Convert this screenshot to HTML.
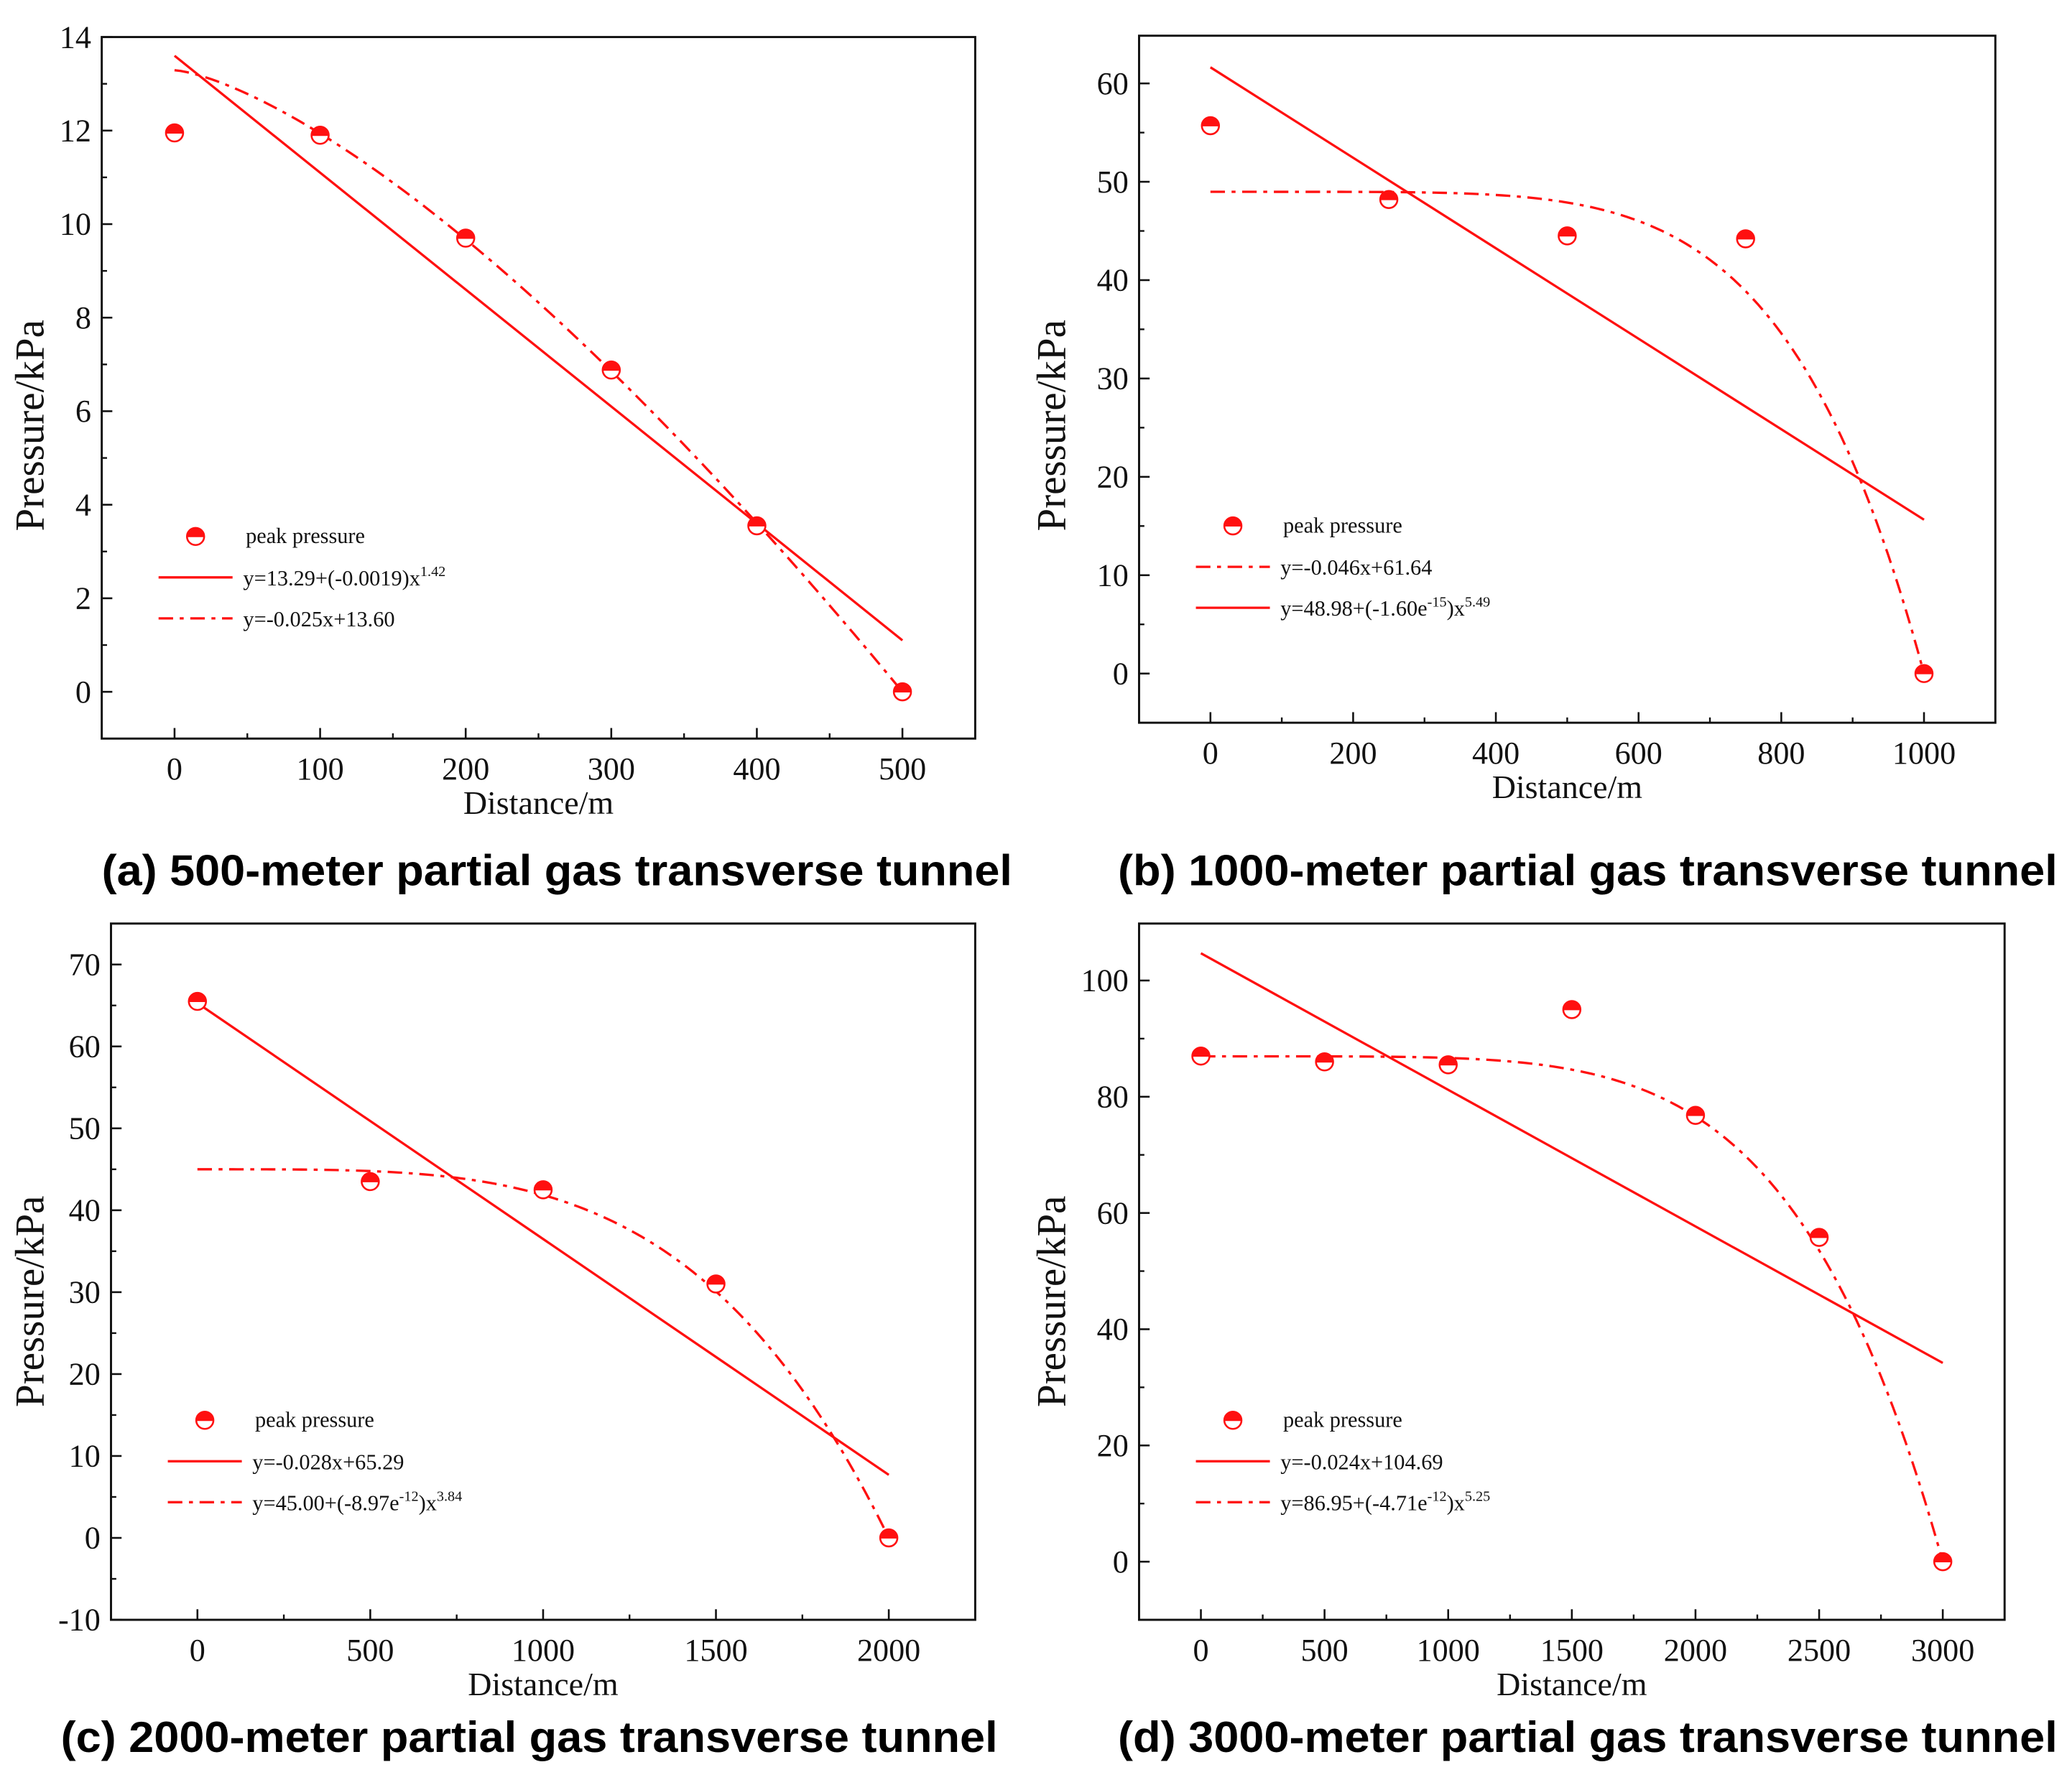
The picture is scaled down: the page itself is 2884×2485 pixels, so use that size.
<!DOCTYPE html>
<html><head><meta charset="utf-8"><style>
html,body{margin:0;padding:0;background:#fff;}
svg{display:block;}
.tick{font-family:"Liberation Serif","DejaVu Serif",serif;font-size:24px;fill:#111;}
.atitle{font-family:"Liberation Serif","DejaVu Serif",serif;font-size:25px;fill:#111;}
.ytitle{font-family:"Liberation Serif","DejaVu Serif",serif;font-size:31px;fill:#111;}
.leg{font-family:"Liberation Serif","DejaVu Serif",serif;font-size:16.5px;fill:#111;}
.sup{font-size:11px;}
.ptitle{font-family:"Liberation Sans Narrow","Liberation Sans",sans-serif;font-weight:bold;font-size:33px;fill:#000;}
</style></head><body>
<svg id="fig" width="2884" height="2485" viewBox="0 0 1568 1351" xmlns="http://www.w3.org/2000/svg"></svg>
<script>
// Panel (a)
const aX = [0, 100, 200, 300, 400, 500];
const aY = [11.95, 11.9, 9.7, 6.88, 3.55, 0];
const aXTicks = [0, 100, 200, 300, 400, 500];
const aYTicks = [0, 2, 4, 6, 8, 10, 12, 14];
const aLin = [13.60, -0.025];
const aPow = [13.29, 13.29, 1.42];
// Panel (b)
const bX = [0, 250, 500, 750, 1000];
const bY = [55.7, 48.2, 44.5, 44.2, 0];
const bXTicks = [0, 200, 400, 600, 800, 1000];
const bYTicks = [0, 10, 20, 30, 40, 50, 60];
const bLin = [61.64, -0.046];
const bPow = [48.98, 48.98, 5.49];
// Panel (c)
const cX = [0, 500, 1000, 1500, 2000];
const cY = [65.5, 43.5, 42.5, 31, 0];
const cXTicks = [0, 500, 1000, 1500, 2000];
const cYTicks = [-10, 0, 10, 20, 30, 40, 50, 60, 70];
const cLin = [65.29, -0.0288];
const cPow = [45.0, 45.0, 3.84];
// Panel (d)
const dX = [0, 500, 1000, 1500, 2000, 2500, 3000];
const dY = [87, 86, 85.5, 95, 76.8, 55.8, 0];
const dXTicks = [0, 500, 1000, 1500, 2000, 2500, 3000];
const dYTicks = [0, 20, 40, 60, 80, 100];
const dLin = [104.69, -0.0235];
const dPow = [86.95, 86.95, 5.25];

const NS = "http://www.w3.org/2000/svg";
const fig = document.getElementById('fig');
const RED = "#ff1010";
function mk(tag, attrs, parent){const e=document.createElementNS(NS,tag);for(const k in attrs)e.setAttribute(k,attrs[k]);(parent||fig).appendChild(e);return e;}

const panels = [
 {id:'a', X:aX, Y:aY, xt:aXTicks, yt:aYTicks, lin:aLin, pow:aPow, box:[77,28,738,559], xd:[-50,550], yd:[-1,14], legX:120, legY:406,
  leg1:['y=13.29+(-0.0019)x','1.42',''], leg2:['y=-0.025x+13.60','',''], l1solid:true,
  title:'(a) 500-meter partial gas transverse tunnel', tx:77, tw:689, ty:670, ylx:33},
 {id:'b', X:bX, Y:bY, xt:bXTicks, yt:bYTicks, lin:bLin, pow:bPow, box:[862,27,1510,547], xd:[-100,1100], yd:[-5,64.85], legX:905, legY:398,
  leg1:['y=-0.046x+61.64','',''], leg2:['y=48.98+(-1.60e','-15',')x','5.49'], l1solid:false,
  title:'(b) 1000-meter partial gas transverse tunnel', tx:846, tw:711, ty:670, ylx:806},
 {id:'c', X:cX, Y:cY, xt:cXTicks, yt:cYTicks, lin:cLin, pow:cPow, box:[84,699,738,1226], xd:[-250,2250], yd:[-10,75], legX:127, legY:1075,
  leg1:['y=-0.028x+65.29','',''], leg2:['y=45.00+(-8.97e','-12',')x','3.84'], l1solid:true,
  title:'(c) 2000-meter partial gas transverse tunnel', tx:46, tw:709, ty:1326, ylx:33},
 {id:'d', X:dX, Y:dY, xt:dXTicks, yt:dYTicks, lin:dLin, pow:dPow, box:[862,699,1517,1226], xd:[-250,3250], yd:[-10,109.8], legX:905, legY:1075,
  leg1:['y=-0.024x+104.69','',''], leg2:['y=86.95+(-4.71e','-12',')x','5.25'], l1solid:true,
  title:'(d) 3000-meter partial gas transverse tunnel', tx:846, tw:711, ty:1326, ylx:806}
];

const DASH = "11,5,3,5";

panels.forEach(p=>{
  const [L,T,R,B]=p.box;
  const sx=v=>L+(v-p.xd[0])/(p.xd[1]-p.xd[0])*(R-L);
  const sy=v=>B-(v-p.yd[0])/(p.yd[1]-p.yd[0])*(B-T);
  const g=mk('g',{});
  
  
  const frame=mk('rect',{x:L,y:T,width:R-L,height:B-T,fill:'none',stroke:'#111','stroke-width':1.6},g);
  
  
  const xstep=p.xt[1]-p.xt[0];
  for(let i=0;i<p.xt.length;i++){
    const x=sx(p.xt[i]);
    const t=mk('line',{x1:x,y1:B,x2:x,y2:B-8,stroke:'#111','stroke-width':1.4},g);
    
    
    const lb=mk('text',{x:x,y:B+31,'text-anchor':'middle',class:'tick'},g);
    lb.textContent=p.xt[i];
    
    
  }
  for(let v=p.xt[0]-xstep/2; v<p.xd[1]; v+=xstep){
    if(v<=p.xd[0])continue;
    const x=sx(v);
    const t=mk('line',{x1:x,y1:B,x2:x,y2:B-4,stroke:'#111','stroke-width':1.3},g);
    
    
  }
  const ystep=p.yt[1]-p.yt[0];
  for(let i=0;i<p.yt.length;i++){
    const y=sy(p.yt[i]);
    const t=mk('line',{x1:L,y1:y,x2:L+8,y2:y,stroke:'#111','stroke-width':1.4},g);
    
    
    const lb=mk('text',{x:L-8,y:y+8,'text-anchor':'end',class:'tick'},g);
    lb.textContent=p.yt[i];
    
    
  }
  for(let v=p.yt[0]-ystep/2; v<p.yd[1]; v+=ystep){
    if(v<=p.yd[0])continue;
    const y=sy(v);
    const t=mk('line',{x1:L,y1:y,x2:L+4,y2:y,stroke:'#111','stroke-width':1.3},g);
    
    
  }
  const xt=mk('text',{x:(L+R)/2,y:B+57,'text-anchor':'middle',class:'atitle'},g);
  xt.textContent='Distance/m';
  
  
  const ycy = (p.id==='a'||p.id==='b')?322:985;
  const yt=mk('text',{x:p.ylx,y:ycy,'text-anchor':'middle',class:'ytitle',transform:`rotate(-90 ${p.ylx} ${ycy})`},g);
  yt.textContent='Pressure/kPa';
  
  
  const x0=p.X[0], x1=p.X[p.X.length-1];
  const lin=mk('line',{x1:sx(x0),y1:sy(p.lin[0]+p.lin[1]*x0),x2:sx(x1),y2:sy(p.lin[0]+p.lin[1]*x1),stroke:RED,'stroke-width':1.8},g);
  
  
  let d='';
  for(let i=0;i<=120;i++){
    const xv=x0+(x1-x0)*i/120;
    const yv=p.pow[0]-p.pow[1]*Math.pow(xv/x1,p.pow[2]);
    d+=(i?'L':'M')+sx(xv).toFixed(2)+','+sy(yv).toFixed(2);
  }
  const pw=mk('path',{d:d,fill:'none',stroke:RED,'stroke-width':1.8,'stroke-dasharray':DASH},g);
  
  
  function marker(cx,cy,par,name){
    const m=mk('g',{},par);
    
    
    mk('circle',{cx:cx,cy:cy,r:6.5,fill:'#fff',stroke:RED,'stroke-width':1.4},m);
    mk('path',{d:`M${cx-6.5},${cy} A6.5,6.5 0 0 1 ${cx+6.5},${cy} Z`,fill:RED,stroke:RED,'stroke-width':1},m);
  }
  for(let i=0;i<p.X.length;i++) marker(sx(p.X[i]),sy(p.Y[i]),g,'data-point');
  const lg=mk('g',{},g);
  
  
  const lx=p.legX, ly=p.legY;
  marker(lx+28,ly,lg,'legend-marker');
  const t0=mk('text',{x:lx+66,y:ly+5,class:'leg'},lg);
  t0.textContent='peak pressure';
  
  
  const rows=[p.leg1,p.leg2];
  rows.forEach((r,k)=>{
    const yy=ly+31*(k+1);
    const solid=(k===0)===p.l1solid;
    const ln=mk('line',{x1:lx,y1:yy,x2:lx+56,y2:yy,stroke:RED,'stroke-width':1.8},lg);
    if(!solid)ln.setAttribute('stroke-dasharray',DASH);
    
    
    const tx=mk('text',{x:lx+64,y:yy+6,class:'leg'},lg);
    
    
    const s1=mk('tspan',{},tx); s1.textContent=r[0];
    if(r.length===3 && r[1]){const s=mk('tspan',{dy:-7,class:'sup'},tx); s.textContent=r[1];}
    if(r.length===4){
      const s=mk('tspan',{dy:-7,class:'sup'},tx); s.textContent=r[1];
      const s2=mk('tspan',{dy:7},tx); s2.textContent=r[2];
      const s3=mk('tspan',{dy:-7,class:'sup'},tx); s3.textContent=r[3];
    }
  });
  const tt=mk('text',{x:p.tx,y:p.ty,class:'ptitle',textLength:p.tw,lengthAdjust:'spacingAndGlyphs'},g);
  tt.textContent=p.title;
  
  
});
</script>
</body></html>
